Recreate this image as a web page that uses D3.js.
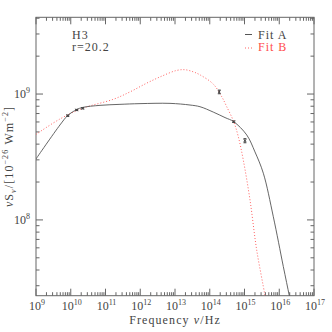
<!DOCTYPE html>
<html>
<head>
<meta charset="utf-8">
<script src="https://cdn.jsdelivr.net/npm/d3@7"></script>
<style>
  body { margin: 0; background: #fff; }
  svg { display: block; }
  text { font-family: "Liberation Serif", "DejaVu Serif", serif; fill: #444; }
</style>
</head>
<body>
<div id="chart"></div>
<script>
// frequency (Hz) and nu*S_nu (1e-26 W m^-2)
var obsNu  = [8.2e9, 1.48e10, 2.2e10, 1.88e14, 4.9e14, 1.03e15];
var obsS   = [6.73e8, 7.47e8, 7.7e8, 1.04e9, 6.03e8, 4.26e8];
var obsErr = [8e6, 8e6, 8e6, 3.5e7, 8e6, 1.6e7];

var fitANu = [1e9, 4.9e9, 8.2e9, 1.48e10, 2.21e10, 6.95e10, 2.61e11, 9.84e11, 7.18e12,
              2.7e13, 5.24e13, 1.26e14, 2.75e14, 4.89e14, 1.16e15, 2.0e15, 3.48e15,
              6.75e15, 1.31e16, 1.95e16, 2.33e16];
var fitAS  = [3.05e8, 5.68e8, 6.75e8, 7.53e8, 7.83e8, 8.13e8, 8.28e8, 8.39e8, 8.43e8,
              8.18e8, 7.93e8, 7.19e8, 6.50e8, 6.03e8, 4.73e8, 3.47e8, 2.35e8,
              1.06e8, 4.26e7, 2.49e7, 1.93e7];

var fitBNu = [1e9, 4.91e9, 2.21e10, 1.67e11, 5.07e11, 1.53e12, 4.23e12, 1.12e13, 1.94e13,
              3.37e13, 5.24e13, 1.26e14, 2.21e14, 3.08e14, 4.89e14, 6.64e14, 9.23e14,
              1.44e15, 2.24e15, 3.89e15, 4.44e15];
var fitBS  = [4.78e8, 6.34e8, 7.71e8, 9.08e8, 1.04e9, 1.22e9, 1.39e9, 1.54e9, 1.56e9,
              1.50e9, 1.42e9, 1.20e9, 9.53e8, 7.93e8, 6.03e8, 4.58e8, 2.99e8,
              1.44e8, 5.78e7, 2.49e7, 1.93e7];

var xDecades = [9, 10, 11, 12, 13, 14, 15, 16, 17];
var yDecades = [8, 9];

(function() {
    var width = 332, height = 332;
    var left = 36, right = 314, top = 17.3, bottom = 295.7;
    var axisCol = "#666";

    var svg = d3.select("#chart").append("svg")
        .attr("width", width)
        .attr("height", height);

    var x = d3.scaleLog().domain([1e9, 1e17]).range([left, right]);
    var y = d3.scaleLog().domain([2.5e7, 4.07e9]).range([bottom, top]);

    svg.append("clipPath").attr("id", "clip")
        .append("rect")
        .attr("x", left).attr("y", top)
        .attr("width", right - left).attr("height", bottom - top);

    // frame
    svg.append("rect")
        .attr("x", left).attr("y", top)
        .attr("width", right - left).attr("height", bottom - top)
        .attr("fill", "none").attr("stroke", axisCol).attr("stroke-width", 1);

    // ticks on all sides, pointing in
    function ticksFor(scale) {
        var d = scale.domain(), out = [];
        var lo = Math.floor(Math.log10(d[0])), hi = Math.ceil(Math.log10(d[1]));
        for (var e = lo; e <= hi; e++) {
            for (var k = 1; k <= 9; k++) {
                var v = k * Math.pow(10, e);
                if (v >= d[0] * 0.999 && v <= d[1] * 1.001) out.push({v: v, major: k === 1});
            }
        }
        return out;
    }
    var g = svg.append("g").attr("stroke", axisCol).attr("stroke-width", 1);
    ticksFor(x).forEach(function(t) {
        var px = x(t.v), len = t.major ? 7 : 3.5;
        g.append("line").attr("x1", px).attr("x2", px).attr("y1", bottom).attr("y2", bottom - len);
        g.append("line").attr("x1", px).attr("x2", px).attr("y1", top).attr("y2", top + len);
    });
    ticksFor(y).forEach(function(t) {
        var py = y(t.v), len = t.major ? 7 : 3.5;
        g.append("line").attr("x1", left).attr("x2", left + len).attr("y1", py).attr("y2", py);
        g.append("line").attr("x1", right).attr("x2", right - len).attr("y1", py).attr("y2", py);
    });

    // tick labels
    xDecades.forEach(function(e) {
        var t = svg.append("text")
            .attr("x", x(Math.pow(10, e)) + 1).attr("y", 310)
            .attr("text-anchor", "middle").attr("font-size", 12);
        t.append("tspan").text("10");
        t.append("tspan").attr("dy", -5).attr("font-size", 8).text(e);
    });
    yDecades.forEach(function(e) {
        var t = svg.append("text")
            .attr("x", 30).attr("y", y(Math.pow(10, e)) + 4)
            .attr("text-anchor", "end").attr("font-size", 12);
        t.append("tspan").text("10");
        t.append("tspan").attr("dy", -5).attr("font-size", 8).text(e);
    });

    // axis titles
    var xt = svg.append("text")
        .attr("x", 175).attr("y", 324)
        .attr("text-anchor", "middle").attr("font-size", 12)
        .attr("letter-spacing", 1.1);
    xt.append("tspan").text("Frequency ");
    xt.append("tspan").attr("font-style", "italic").text("ν");
    xt.append("tspan").text("/Hz");

    var yt = svg.append("text")
        .attr("transform", "translate(13," + ((top + bottom) / 2) + ") rotate(-90)")
        .attr("text-anchor", "middle").attr("font-size", 12)
        .attr("letter-spacing", 1.1);
    yt.append("tspan").attr("font-style", "italic").text("ν");
    yt.append("tspan").text("S");
    yt.append("tspan").attr("dy", 3).attr("font-size", 8).attr("font-style", "italic").text("ν");
    yt.append("tspan").attr("dy", -3).text("/[10");
    yt.append("tspan").attr("dy", -5).attr("font-size", 8).text("−26");
    yt.append("tspan").attr("dy", 5).text(" Wm");
    yt.append("tspan").attr("dy", -5).attr("font-size", 8).text("−2");
    yt.append("tspan").attr("dy", 5).text("]");

    // fit curves
    var line = d3.line()
        .x(function(d) { return x(d[0]); })
        .y(function(d) { return y(d[1]); })
        .curve(d3.curveCatmullRom.alpha(0.5));

    var plot = svg.append("g").attr("clip-path", "url(#clip)");
    plot.append("path")
        .attr("d", line(d3.zip(fitBNu, fitBS)))
        .attr("fill", "none").attr("stroke", "#ff6060").attr("stroke-width", 1)
        .attr("stroke-dasharray", "1,2");
    plot.append("path")
        .attr("d", line(d3.zip(fitANu, fitAS)))
        .attr("fill", "none").attr("stroke", "#555").attr("stroke-width", 0.9);

    // observed points with error bars
    var pts = plot.selectAll("g.pt")
        .data(d3.range(obsNu.length))
        .enter().append("g")
        .attr("stroke", "#444").attr("stroke-width", 1);
    pts.append("line")
        .attr("x1", function(i) { return x(obsNu[i]); })
        .attr("x2", function(i) { return x(obsNu[i]); })
        .attr("y1", function(i) { return y(obsS[i] - obsErr[i]); })
        .attr("y2", function(i) { return y(obsS[i] + obsErr[i]); });
    [-1, 1].forEach(function(s) {
        pts.append("line")
            .attr("x1", function(i) { return x(obsNu[i]) - 1.5; })
            .attr("x2", function(i) { return x(obsNu[i]) + 1.5; })
            .attr("y1", function(i) { return y(obsS[i] + s * obsErr[i]); })
            .attr("y2", function(i) { return y(obsS[i] + s * obsErr[i]); });
        pts.append("line")
            .attr("x1", function(i) { return x(obsNu[i]) - 1.2; })
            .attr("x2", function(i) { return x(obsNu[i]) + 1.2; })
            .attr("y1", function(i) { return y(obsS[i]) - 1.2 * s; })
            .attr("y2", function(i) { return y(obsS[i]) + 1.2 * s; });
    });

    // labels
    svg.append("text").attr("x", 72).attr("y", 38.5).attr("font-size", 12)
        .attr("letter-spacing", 1).text("H3");
    svg.append("text").attr("x", 72).attr("y", 51).attr("font-size", 12)
        .attr("letter-spacing", 1).text("r=20.2");

    svg.append("line").attr("x1", 245).attr("x2", 252).attr("y1", 34.5).attr("y2", 34.5)
        .attr("stroke", "#555");
    svg.append("text").attr("x", 258).attr("y", 38.5).attr("font-size", 12)
        .attr("letter-spacing", 1).text("Fit A");
    svg.append("line").attr("x1", 245).attr("x2", 252).attr("y1", 48).attr("y2", 48)
        .attr("stroke", "#ff6060").attr("stroke-dasharray", "1,2");
    svg.append("text").attr("x", 258).attr("y", 51).attr("font-size", 12)
        .attr("letter-spacing", 1).style("fill", "#ff4d4d").text("Fit B");
})();
</script>
</body>
</html>
